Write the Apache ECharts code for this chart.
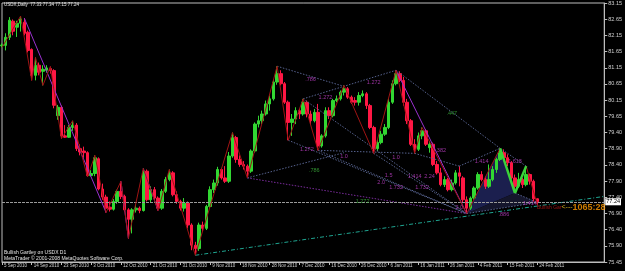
<!DOCTYPE html>
<html><head><meta charset="utf-8">
<script src="https://cdn.jsdelivr.net/npm/echarts@6/dist/echarts.min.js"></script>
<style>html,body{margin:0;padding:0;background:#000}#c{width:625px;height:271px}</style>
</head><body><div id="c"></div>
<script>
// ---- data ----
const xTickLabels = ["5 Sep 2010","14 Sep 2010","23 Sep 2010","3 Oct 2010","12 Oct 2010","21 Oct 2010","31 Oct 2010","9 Nov 2010","18 Nov 2010","28 Nov 2010","7 Dec 2010","16 Dec 2010","26 Dec 2010","6 Jan 2011","16 Jan 2011","26 Jan 2011","4 Feb 2011","15 Feb 2011","24 Feb 2011"];
const yTickLabels = ["83.15","82.65","82.15","81.65","81.15","80.65","80.15","79.65","79.40","78.90","78.40","77.90","77.40","76.90","76.40","75.90","75.45"];
const opens  = [81.88,81.89,82.13,82.61,82.43,82.55,82.58,82.28,81.77,81.00,81.30,81.12,81.15,81.20,81.14,79.80,80.05,79.20,79.16,79.45,79.52,78.82,78.75,78.70,78.02,78.08,78.52,77.62,77.38,77.08,77.02,77.25,77.55,77.40,77.00,76.72,77.00,77.05,76.98,78.15,77.30,77.60,77.35,77.05,77.55,77.90,78.10,77.45,77.25,77.05,77.20,76.55,75.95,75.85,76.55,76.45,77.10,77.60,77.80,78.20,77.95,77.85,78.60,79.15,78.50,78.35,78.30,78.15,78.75,79.55,79.65,79.85,80.15,80.30,80.80,81.05,80.75,80.20,79.60,79.70,79.95,79.85,80.20,79.85,79.65,79.90,78.90,79.20,79.95,79.80,80.25,80.30,80.50,80.60,80.35,80.25,80.20,80.40,80.45,80.10,79.45,78.82,79.00,79.25,79.45,80.20,80.75,81.05,80.85,80.20,79.65,78.95,78.80,79.20,79.35,78.85,78.95,78.35,78.10,77.75,77.90,77.60,77.80,78.10,77.95,77.30,77.05,77.35,77.65,78.05,77.90,77.70,77.90,78.20,78.50,78.70,78.55,78.40,77.95,77.70,77.90,77.75,78.05,77.85,77.33];
const highs  = [81.95,82.25,82.73,82.66,82.62,82.76,82.70,82.33,81.80,81.53,81.38,81.30,81.30,81.26,81.18,80.12,80.10,79.52,79.52,79.65,79.58,78.95,78.88,78.74,78.18,78.62,78.56,77.78,77.45,77.25,77.32,77.60,77.85,77.45,77.05,77.05,77.15,77.10,78.23,78.20,77.70,77.68,77.40,77.62,77.98,78.20,78.15,77.55,77.30,77.35,77.25,76.60,76.05,76.62,76.65,77.15,77.70,77.90,78.28,78.25,78.30,78.72,79.30,79.20,78.62,78.45,78.35,78.80,79.60,79.80,79.95,80.25,80.40,80.88,81.27,81.15,80.80,80.25,79.85,80.05,80.00,80.30,80.25,79.95,80.00,80.15,79.25,80.05,80.05,80.30,80.40,80.55,80.70,80.65,80.40,80.35,80.50,80.55,80.50,80.15,79.50,79.10,79.35,79.55,80.30,80.85,81.15,81.12,80.95,80.30,79.70,79.10,79.30,79.45,79.40,79.05,79.00,78.45,78.25,78.00,77.95,77.90,78.18,78.30,78.00,77.40,77.40,77.70,78.12,78.15,78.00,78.35,78.30,78.55,78.83,78.80,78.65,78.45,78.05,78.10,77.95,78.30,78.08,77.90,77.34];
const lows   = [81.83,81.74,82.05,82.19,82.14,82.30,82.19,81.68,80.85,80.85,81.00,80.70,81.08,81.05,80.02,79.68,79.12,79.14,79.14,79.35,78.75,78.62,78.55,77.98,77.99,78.00,77.58,77.30,76.92,76.95,76.98,77.18,77.32,76.95,76.15,76.30,76.92,76.90,76.95,77.25,77.22,77.28,76.98,77.00,77.50,77.85,77.40,77.18,76.98,76.95,76.45,75.80,75.65,75.78,76.35,76.40,77.05,77.50,77.72,77.90,77.80,77.80,78.55,78.40,78.28,78.20,77.95,78.10,78.70,79.45,79.55,79.80,79.95,80.25,80.72,80.70,80.15,79.07,79.20,79.55,79.70,79.80,79.75,79.55,79.60,78.77,78.85,79.15,79.70,79.75,80.20,80.25,80.40,80.30,80.15,80.10,80.10,80.35,80.00,79.40,78.68,78.75,78.95,79.20,79.40,80.15,80.70,80.80,80.10,79.55,78.90,78.68,78.75,79.10,78.90,78.70,78.30,78.05,77.70,77.68,77.55,77.55,77.75,77.70,77.20,76.89,77.00,77.30,77.60,77.85,77.62,77.65,77.85,78.10,78.45,78.45,78.30,77.90,77.50,77.65,77.65,77.70,77.75,77.25,77.15];
const closes = [81.90,82.13,82.64,82.31,82.55,82.67,82.25,81.74,81.00,81.30,81.09,81.18,81.22,81.14,80.11,80.05,79.20,79.16,79.45,79.52,78.82,78.72,78.70,78.02,78.08,78.55,77.62,77.38,77.05,77.02,77.25,77.55,77.40,77.00,76.72,77.00,77.05,76.98,78.15,77.30,77.60,77.35,77.05,77.55,77.90,78.10,77.45,77.25,77.05,77.20,76.55,75.95,75.85,76.55,76.45,77.10,77.60,77.80,78.20,77.95,77.85,78.60,79.15,78.50,78.35,78.30,78.15,78.75,79.55,79.65,79.85,80.15,80.30,80.80,81.05,80.75,80.20,79.60,79.70,79.95,79.85,80.20,79.85,79.65,79.90,78.90,79.20,79.95,79.80,80.25,80.30,80.50,80.60,80.35,80.20,80.20,80.40,80.45,80.10,79.45,78.82,79.00,79.25,79.45,80.20,80.75,81.05,80.85,80.20,79.65,78.95,78.80,79.20,79.35,78.95,78.95,78.35,78.10,77.75,77.90,77.60,77.80,78.10,78.00,77.30,77.05,77.35,77.65,78.05,77.90,77.70,77.90,78.20,78.50,78.70,78.55,78.40,77.95,77.70,77.90,77.75,78.05,77.85,77.33,77.24];
const lastPrice = 77.24;
// swing (zigzag) points [bar index, price]
const zigzag = [[0,81.83],[5,82.76],[8,80.85],[9,81.53],[11,80.70],[13,81.26],[16,79.12],[19,79.65],[23,77.98],[25,78.62],[28,76.92],[32,77.85],[34,76.15],[38,78.23],[42,76.98],[45,78.20],[52,75.65],[62,79.30],[66,77.95],[74,81.27],[77,79.07],[81,80.30],[85,78.77],[92,80.70],[100,78.68],[106,81.15],[111,78.68],[113,79.45],[125,76.89],[134,78.83],[138,77.50],[141,78.30],[144,77.15]];
const purpleLegs = [[[6,82.70],[28,76.92]],[[32,77.85],[34,76.15]],[[38,78.23],[42,76.98]],[[106,81.15],[125,76.89]]];
const fibLines = [[[74,81.27],[92,80.67]],[[81,80.30],[106,81.15]],[[85,78.77],[111,78.68]],[[66,77.95],[92,78.70]],[[77,79.07],[125,76.89]],[[81,80.30],[125,76.89]],[[85,78.77],[125,76.89]],[[100,78.68],[125,76.89]],[[106,81.15],[134,78.83]],[[111,78.68],[123,78.30]],[[123,78.30],[134,78.83]],[[125,76.89],[144,77.22]],[[134,78.83],[141,78.30]],[[138,77.50],[144,77.22]]];
const purpleDotted = [[[66,77.95],[125,76.89]]];
const trendline = [[52,75.65],[162,77.40]];
// Gartley points X, A, B, C, D
const gX = [125,76.89], gA = [134,78.83], gB = [138,77.50], gC = [141,78.30], gD = [144,77.22];
const fibPurple = [[83,80.88,".786"],[100,80.79,"1.272"],[87,80.34,"1.272"],[82,78.80,"1.272"],[92,78.59,"1.0"],[106,78.56,"1.0"],[104,78.02,"1.5"],[102,77.82,"2.0"],[106,77.67,"1.732"],[118,78.77,".382"],[129,78.44,"1.414"],[138,78.44,"1.618"],[111,77.99,"1.414"],[115,77.99,"2.24"],[113,77.67,"1.732"],[123,77.07,"2.0"],[135,76.86,".886"],[142,77.19,"1.414"]];
const fibGreen = [[84,78.17,".786"],[97,77.25,"1.272"],[121,79.87,".447"]];
const timerLabel = [[145,77.08]];

// ---- chart ----
const slots = 163;
const categories = Array.from({length: slots}, (_, i) => String(i));
const yMin = 75.45, yMax = 83.15;
const yStep = (yMax - yMin) / (yTickLabels.length - 1);
const yTicks = yTickLabels.map((_, i) => +(yMin + i * yStep).toFixed(6));
const F = '"Liberation Sans", Arial, sans-serif';

function segs(list, color, type, width, z) {
  return {type: 'lines', coordinateSystem: 'cartesian2d', polyline: false, silent: true, z: z,
    lineStyle: {color: color, type: type, width: width, opacity: 1},
    data: list.map(s => ({coords: s}))};
}
function labelSeries(list, color) {
  return {type: 'scatter', symbolSize: 0, silent: true, z: 6, data: list,
    label: {show: true, position: 'inside', formatter: p => p.value[2], color: color,
      fontSize: 5.5, fontFamily: F}};
}

const chart = echarts.init(document.getElementById('c'), null, {renderer: 'canvas'});
chart.setOption({
  backgroundColor: '#000000',
  animation: false,
  grid: {left: 2, right: 18, top: 3, bottom: 9, show: true, borderColor: '#bdbdbd', borderWidth: 1},
  xAxis: {
    type: 'category', data: categories, boundaryGap: false,
    axisLine: {lineStyle: {color: '#bdbdbd'}},
    axisTick: {length: 3, interval: i => i % 8 === 0 && i / 8 < xTickLabels.length, lineStyle: {color: '#bdbdbd'}},
    axisLabel: {interval: 7, align: 'left', margin: 1, color: '#d0d0d0', fontSize: 4.5, fontFamily: F,
      padding: [0, 0, 0, 2],
      formatter: (v, i) => (i % 8 === 0 && xTickLabels[i / 8]) ? xTickLabels[i / 8] : ''},
    splitLine: {show: false}
  },
  yAxis: {
    type: 'value', position: 'right', min: yMin, max: yMax, scale: true,
    axisLine: {show: true, lineStyle: {color: '#bdbdbd'}},
    axisTick: {show: true, length: 3, customValues: yTicks, lineStyle: {color: '#bdbdbd'}},
    axisLabel: {customValues: yTicks, margin: 4, color: '#d0d0d0', fontSize: 5.5, fontFamily: F,
      formatter: v => yTickLabels[yTickLabels.length - 1 - Math.round((v - yMin) / yStep)]},
    splitLine: {show: false}
  },
  graphic: [
    {type: 'text', left: 4, top: 2, style: {text: 'USDX,Daily  77.33 77.34 77.15 77.24', fill: '#e6e6e6', font: '4.5px ' + F}},
    {type: 'text', left: 4, top: 250, style: {text: 'Bullish Gartley on USDX D1', fill: '#e6e6e6', font: '5px ' + F}},
    {type: 'text', left: 4, top: 256, style: {text: 'MetaTrader \u00a9 2001-2008 MetaQuotes Software Corp.', fill: '#e6e6e6', font: '5px ' + F}}
  ],
  series: [
    {type: 'custom', silent: true, z: 1, data: [0, 1],
      renderItem: (params, api) => {
        const polys = [[gX, gA, gB], [gX, gB, gD]];
        const fills = ['#1b1f4e', '#15162c'];
        return {type: 'polygon', shape: {points: polys[params.dataIndex].map(p => api.coord(p))},
          style: {fill: fills[params.dataIndex]}};
      }},
    {type: 'candlestick', z: 3, barWidth: 3,
      data: opens.map((o, i) => [o, closes[i], lows[i], highs[i]]),
      itemStyle: {color: '#32d732', color0: '#ff1744', borderColor: '#32d732', borderColor0: '#ff1744', borderWidth: 1},
      markLine: {silent: true, symbol: ['none', 'none'], animation: false,
        lineStyle: {color: '#9a9a9a', type: [3, 1], width: 1},
        label: {show: true, position: 'end', distance: 1, formatter: lastPrice.toFixed(2),
          backgroundColor: '#ffffff', color: '#000000', fontSize: 5.5, fontFamily: F, padding: [1, 1, 0, 1]},
        data: [{yAxis: lastPrice}]}},
    segs(fibLines, '#56628e', [1.5, 1.5], 1, 4),
    segs(purpleDotted, '#7a2c9c', [1.5, 1.5], 1, 4),
    segs([trendline], '#1fa591', [4, 2, 1, 2], 1, 4),
    segs(purpleLegs, '#9b30d0', 'solid', 1, 4),
    {type: 'lines', coordinateSystem: 'cartesian2d', polyline: true, silent: true, z: 5,
      lineStyle: {color: '#a01414', width: 1, opacity: 1}, data: [{coords: zigzag}]},
    segs([[gA, gB], [gB, gC]], '#3ad23a', 'solid', 2.5, 5),
    labelSeries(fibPurple, '#c040c8'),
    labelSeries(fibGreen, '#3cb43c'),
    {type: 'scatter', symbolSize: 0, silent: true, z: 7, data: timerLabel,
      label: {show: true, position: 'right', distance: 0, offset: [-4, 0],
        formatter: '{a|Bullish Gar}{b|<---}{c|1065:28}',
        rich: {a: {color: '#c01818', fontSize: 5, fontFamily: F},
               b: {color: '#ffd21e', fontSize: 7, fontFamily: F},
               c: {color: '#ff9a00', fontSize: 9, fontWeight: 'bold', fontFamily: F}}}}
  ]
});
</script></body></html>
